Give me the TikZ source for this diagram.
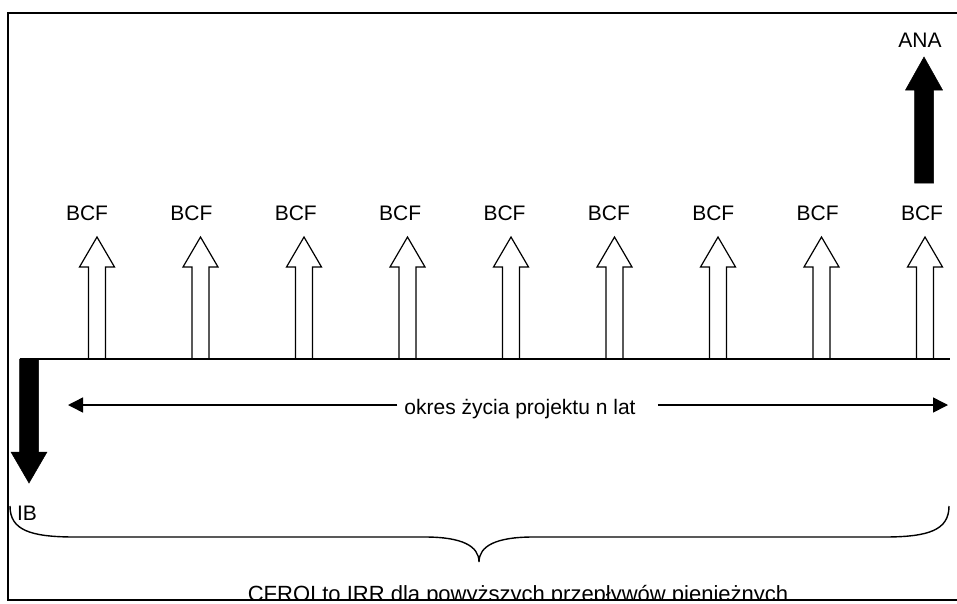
\documentclass[tikz,border=0pt]{standalone}
\usepackage{fontspec}
\setmainfont{Liberation Sans}
\usetikzlibrary{arrows.meta}
\begin{document}
\begin{tikzpicture}[x=1pt,y=-1pt,
  lbl/.style={inner sep=0pt,font=\fontsize{21}{25}\selectfont},
  frameline/.style={line width=1.6pt,black},
  baseline/.style={line width=1.4pt,black},
  whitearrow/.style={draw=black,fill=white,line width=1.2pt,line join=miter},
  blackarrow/.style={draw=black,fill=black,line width=0.5pt},
  spanarrow/.style={line width=1.5pt,-{Triangle[length=15pt,width=15pt]}},
  bracepath/.style={line width=1.4pt}]
\useasboundingbox (0,0) rectangle (957,603);
% frame
\draw[frameline] (962,13) -- (8,13) -- (8,600) -- (962,600);
% up arrows and labels
\foreach \i in {0,...,8} {
  \pgfmathsetmacro\cx{97+103.5*\i}
  \draw[whitearrow] (\cx-8.5,359) -- (\cx-8.5,267) -- (\cx-17.5,267) -- (\cx,237)
     -- (\cx+17.5,267) -- (\cx+8.5,267) -- (\cx+8.5,359) -- cycle;
  \node[lbl,anchor=base] (bcf\i) at (\cx-10+0.875*\i,220) {BCF};
}
% baseline
\coordinate (B0) at (20,359);
\coordinate (B1) at (950,359);
\draw[baseline] (B0) -- (B1);
% ANA arrow
\draw[blackarrow] (914.5,183) -- (914.5,90) -- (905.5,90) -- (924,57) -- (942.5,90)
   -- (933.5,90) -- (933.5,183) -- cycle;
\node[lbl,anchor=base] (ana) at (920,47) {ANA};
% IB arrow
\draw[blackarrow] (19.5,359) -- (19.5,452) -- (11,452) -- (29,483) -- (47,452)
   -- (38.5,452) -- (38.5,359) -- cycle;
\node[lbl,anchor=base] (ib) at (27,520) {IB};
% span arrow
\coordinate (L) at (68,405);
\coordinate (R) at (948,405);
\node[lbl,anchor=base] (span) at (520,414) {okres życia projektu n lat};
\draw[spanarrow] ([xshift=-7pt]span.west |- L) -- (L);
\draw[spanarrow] ([xshift=22pt]span.east |- R) -- (R);
% brace
\draw[bracepath] (10,506) .. controls (10,530) and (30,537) .. (75,537)
  -- (425,537) .. controls (462,537) and (479,546) .. (479,562)
  .. controls (479,546) and (496,537) .. (533,537)
  -- (884,537) .. controls (929,537) and (949,530) .. (949,506);
% bottom text, cut by the frame
\begin{scope}
  \clip (0,0) rectangle (957,599);
  \node[lbl,anchor=base,font=\fontsize{22}{26}\selectfont] (cfroi) at (518,601) {CFROI to IRR dla powyższych przepływów pieniężnych};
\end{scope}
\draw[frameline] (8,600) -- (962,600);
\end{tikzpicture}
\end{document}
